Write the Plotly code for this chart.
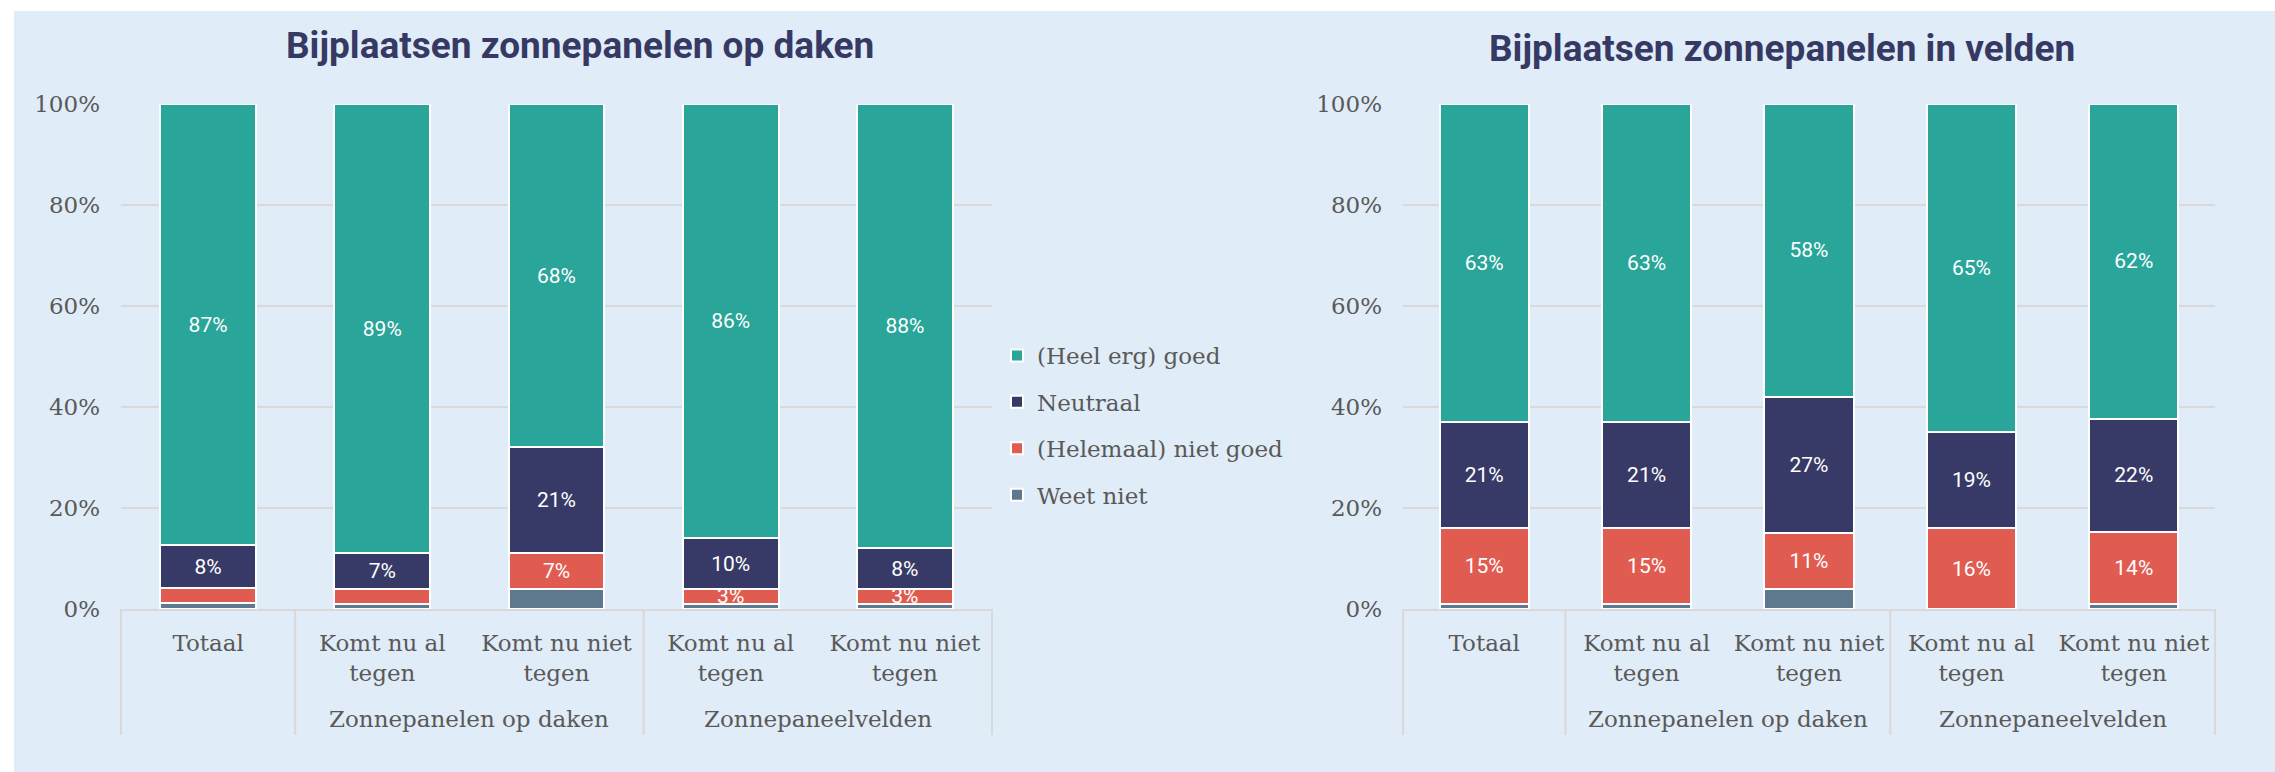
import plotly.graph_objects as go

W, H = 2275, 772

groepen = ["", "Zonnepanelen op daken", "Zonnepanelen op daken", "Zonnepaneelvelden", "Zonnepaneelvelden"]
categorieen = ["Totaal", "Komt nu al<br>tegen", "Komt nu niet<br>tegen", "Komt nu al<br>tegen", "Komt nu niet<br>tegen"]
y_ticks = [0, 20, 40, 60, 80, 100]

reeksen = ["Weet niet", "(Helemaal) niet goed", "Neutraal", "(Heel erg) goed"]
kleuren = ["#5e798d", "#e05c51", "#373a66", "#29a59a"]

# daken
daken_weet_niet = [1.2, 1.0, 4.0, 1.0, 1.0]
daken_niet_goed = [3.0, 3.0, 7.0, 3.0, 3.0]
daken_neutraal = [8.4, 7.0, 21.0, 10.0, 8.0]
daken_goed = [87.4, 89.0, 68.0, 86.0, 88.0]

# velden
velden_weet_niet = [1.0, 1.0, 4.0, 0.0, 1.0]
velden_niet_goed = [15.0, 15.0, 11.0, 16.0, 14.3]
velden_neutraal = [21.0, 21.0, 27.0, 19.0, 22.4]
velden_goed = [63.0, 63.0, 58.0, 65.0, 62.3]

# welke labels zichtbaar zijn in de grafiek
toon_daken = [[False] * 5, [False, False, True, True, True], [True] * 5, [True] * 5]
toon_velden = [[False] * 5, [True] * 5, [True] * 5, [True] * 5]

tick_font = dict(family="DejaVu Serif", size=23, color="#595959")
label_font = dict(family="Roboto", size=21, color="white")
grijs = "#d9d9d9"


def labels(waarden, toon):
    return [f"{v:.0f}%" if t else "" for v, t in zip(waarden, toon)]


fig = go.Figure()

posities = list(range(len(categorieen)))
daken = [daken_weet_niet, daken_niet_goed, daken_neutraal, daken_goed]
velden = [velden_weet_niet, velden_niet_goed, velden_neutraal, velden_goed]

for i, naam in enumerate(reeksen):
    for data, toon, xa, ya, legenda in [
        (daken, toon_daken, "x", "y", True),
        (velden, toon_velden, "x2", "y2", False),
    ]:
        fig.add_trace(go.Bar(
            x=posities, y=data[i], name=naam, showlegend=legenda,
            marker=dict(color=kleuren[i], line=dict(color="white", width=2)),
            text=labels(data[i], toon[i]), textposition="inside",
            insidetextanchor="middle", textangle=0, constraintext="none",
            textfont=label_font, legendgroup=naam, legendrank=len(reeksen) - i,
            xaxis=xa, yaxis=ya, hoverinfo="skip",
        ))

y0_pix, y100_pix = 609, 104
y_dom = [1 - y0_pix / H, 1 - y100_pix / H]
y_groep = 1 - 719 / H
y_divider = 1 - 735 / H

xas = dict(
    range=[-0.5, len(categorieen) - 0.5], tickvals=posities, ticktext=categorieen,
    showgrid=False, zeroline=False, ticks="", tickfont=tick_font,
    showline=True, linecolor=grijs, linewidth=2,
    ticklabelstandoff=12, automargin=False,
)
yas = dict(
    range=[0, 100], tickvals=y_ticks, ticktext=[f"{t}%" for t in y_ticks],
    showgrid=True, gridcolor=grijs, gridwidth=2, zeroline=False,
    showline=False, tickfont=tick_font, ticklabelstandoff=20, automargin=False,
)

# groepslabels en scheidingslijnen onder de x-as
shapes = [dict(
    type="rect", xref="paper", yref="paper", layer="below",
    x0=14 / W, x1=1, y0=0, y1=1 - 11 / H,
    fillcolor="#e0ecf7", line=dict(width=0),
)]
annotations = []
for xa in ["x", "x2"]:
    grenzen = [p - 0.5 for p in posities[1:] if groepen[p] != groepen[p - 1]]
    for g in grenzen:
        shapes.append(dict(type="line", xref=xa, yref="paper", x0=g, x1=g,
                           y0=y_dom[0], y1=y_divider, line=dict(color=grijs, width=2)))
    for g in [0, 1]:
        shapes.append(dict(type="line", xref=xa + " domain", yref="paper", x0=g, x1=g,
                           y0=y_dom[0], y1=y_divider, line=dict(color=grijs, width=2)))
    for naam in dict.fromkeys(groepen):
        if not naam:
            continue
        idx = [p for p in posities if groepen[p] == naam]
        annotations.append(dict(text=naam, xref=xa, yref="paper", x=sum(idx) / len(idx),
                                y=y_groep, showarrow=False, yanchor="middle",
                                font=tick_font))

titel_font = dict(family="Roboto", size=37, color="#363963")
annotations += [
    dict(text="<b>Bijplaatsen zonnepanelen op daken</b>", xref="paper", yref="paper",
         x=580 / W, y=1 - 46 / H, showarrow=False, xanchor="center", yanchor="middle",
         font=titel_font),
    dict(text="<b>Bijplaatsen zonnepanelen in velden</b>", xref="paper", yref="paper",
         x=1782 / W, y=1 - 48 / H, showarrow=False, xanchor="center", yanchor="middle",
         font=titel_font),
]

fig.update_layout(
    width=W, height=H,
    margin=dict(l=0, r=0, t=0, b=0, autoexpand=False),
    paper_bgcolor="white", plot_bgcolor="rgba(0,0,0,0)",
    barmode="stack", bargap=0.45,
    xaxis=dict(domain=[121 / W, 992 / W], anchor="y", **xas),
    xaxis2=dict(domain=[1403 / W, 2215 / W], anchor="y2", **xas),
    yaxis=dict(domain=y_dom, anchor="x", **yas),
    yaxis2=dict(domain=y_dom, anchor="x2", **yas),
    legend=dict(
        x=997 / W, y=1 - 334 / H, xanchor="left", yanchor="top",
        font=tick_font, bgcolor="rgba(0,0,0,0)",
        traceorder="grouped", tracegroupgap=13.5,
    ),
    shapes=shapes,
    annotations=annotations,
)

# geen standaard body-marge, zodat de figuur precies in het venster past
fig.write_html(
    "out.html",
    config={"displayModeBar": False},
    post_script="document.body.style.margin = '0';",
)
